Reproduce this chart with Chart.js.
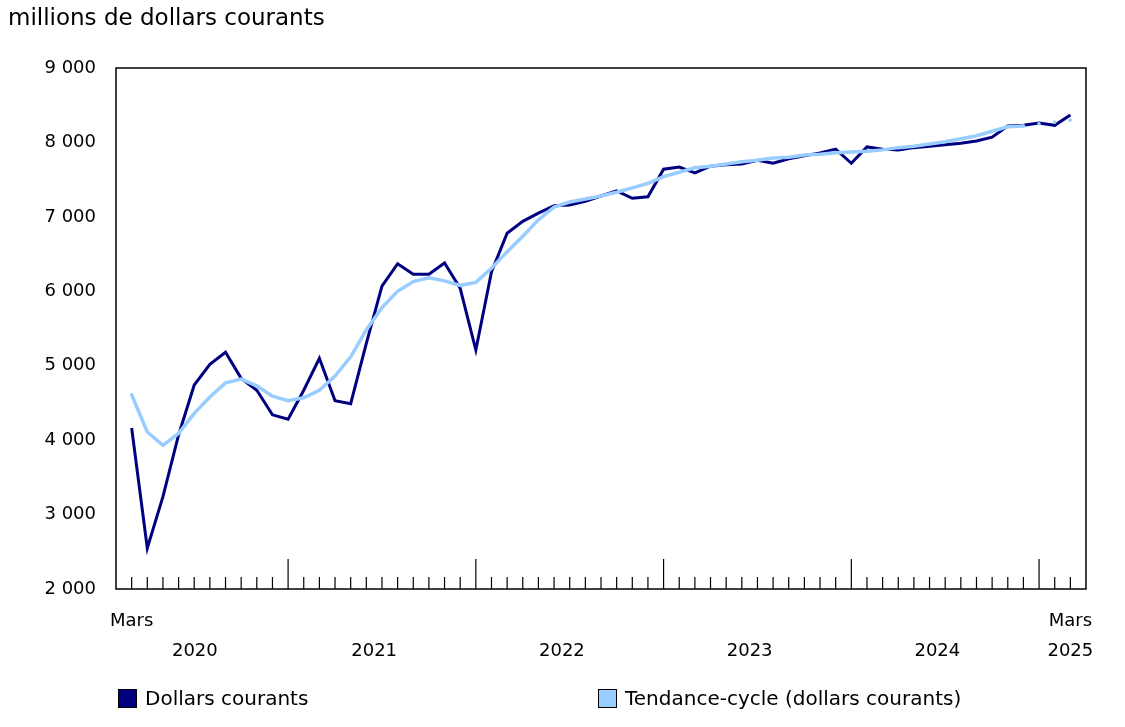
<!DOCTYPE html>
<html>
<head>
<meta charset="utf-8">
<script src="https://cdn.jsdelivr.net/npm/chart.js@4/dist/chart.umd.min.js"></script>
<style>
  body { margin: 0; background: #fff; font-family: "DejaVu Sans", Verdana, sans-serif; }
  #wrap { position: relative; width: 1125px; height: 727px; }
  #title { position: absolute; left: 8px; top: 4px; font-size: 23px; color: #000; }
  .leg { position: absolute; top: 686px; font-size: 20px; display: flex; align-items: center; }
  .sw { width: 19px; height: 19px; border: 1px solid #000; margin-right: 8px; box-sizing: border-box; }
</style>
</head>
<body>
<div id="wrap">
  <canvas id="c" width="1125" height="727"></canvas>
  <div id="title">millions de dollars courants</div>
  <div class="leg" style="left:118px"><div class="sw" style="background:#000080"></div>Dollars courants</div>
  <div class="leg" style="left:598px"><div class="sw" style="background:#99ccff"></div>Tendance-cycle (dollars courants)</div>
</div>
<script>
/* ===== Monthly series, March 2020 - March 2025 ===== */

const months = [];
const monthNames = ['Jan','Fév','Mars','Avr','Mai','Juin','Juil','Août','Sept','Oct','Nov','Déc'];
for (let y = 2020; y <= 2025; y++) {
  for (let m = 0; m < 12; m++) {
    if ((y === 2020 && m < 2) || (y === 2025 && m > 2)) continue;
    months.push(monthNames[m] + ' ' + y);
  }
}

const courants = [
  4163, 2550, 3240, 4070, 4740, 5020, 5180, 4830, 4670, 4340,
  4280, 4670, 5100, 4530, 4490, 5300, 6070, 6370, 6230, 6230, 6380, 6040,
  5210, 6260, 6780, 6940, 7050, 7150, 7160, 7210, 7280, 7350, 7250, 7270,
  7640, 7670, 7590, 7680, 7700, 7710, 7760, 7720, 7780, 7820, 7860, 7910,
  7720, 7940, 7910, 7900, 7930, 7950, 7970, 7990, 8020, 8070, 8220, 8230,
  8260, 8230, 8370
];

const tendance = [
  4610, 4110, 3930, 4090, 4360, 4580, 4770, 4820, 4730, 4590,
  4530, 4570, 4670, 4860, 5120, 5480, 5780, 6000, 6130, 6180, 6140, 6080,
  6120, 6310, 6530, 6740, 6960, 7130, 7200, 7240, 7280, 7330, 7390, 7450,
  7540, 7600, 7660, 7680, 7710, 7740, 7760, 7790, 7800, 7830, 7840, 7860,
  7870, 7880, 7900, 7930, 7950, 7980, 8010, 8050, 8090, 8150, 8210, 8220,
  8250, 8270, 8300
];

const yearLabels = ['2020', '2021', '2022', '2023', '2024', '2025'];
const dottedFrom = 57; // last trend-cycle points are drawn dotted

const FONT = '"DejaVu Sans", Verdana, sans-serif';
const toXY = arr => arr.map((v, i) => ({ x: i, y: v }));

// Box, month ticks and bottom labels
const decor = {
  id: 'decor',
  afterDraw(chart) {
    const ctx = chart.ctx, a = chart.chartArea, xs = chart.scales.x;
    ctx.save();
    ctx.strokeStyle = '#000';
    ctx.lineWidth = 1.5;
    ctx.strokeRect(a.left, a.top, a.right - a.left, a.bottom - a.top);
    ctx.lineWidth = 1.2;
    months.forEach((m, i) => {
      const x = xs.getPixelForValue(i);
      const len = m.startsWith('Jan') ? 30 : 12;
      ctx.beginPath();
      ctx.moveTo(x, a.bottom);
      ctx.lineTo(x, a.bottom - len);
      ctx.stroke();
    });
    ctx.fillStyle = '#000';
    ctx.font = '18px ' + FONT;
    ctx.textAlign = 'center';
    ctx.textBaseline = 'middle';
    ctx.fillText('Mars', xs.getPixelForValue(0), a.bottom + 32);
    ctx.fillText('Mars', xs.getPixelForValue(months.length - 1), a.bottom + 32);
    yearLabels.forEach(y => {
      const idx = months.map((m, i) => m.endsWith(y) ? i : -1).filter(i => i >= 0);
      let x;
      if (y === '2025') x = xs.getPixelForValue(months.length - 1);
      else if (y === '2020') x = (xs.getPixelForValue(idx[0]) + xs.getPixelForValue(idx[idx.length - 1] + 1)) / 2 - 15;
      else x = (xs.getPixelForValue(idx[0]) + xs.getPixelForValue(idx[idx.length - 1])) / 2;
      ctx.fillText(y, x, a.bottom + 62);
    });
    ctx.restore();
  }
};

new Chart(document.getElementById('c'), {
  type: 'line',
  data: {
    datasets: [
      {
        label: 'Tendance-cycle (dollars courants)',
        data: toXY(tendance),
        borderColor: '#99ccff',
        borderWidth: 3.5,
        pointRadius: 0,
        tension: 0,
        borderCapStyle: 'round',
        segment: {
          borderDash: c => c.p0DataIndex >= dottedFrom ? [0.1, 15.6] : undefined
        }
      },
      {
        label: 'Dollars courants',
        data: toXY(courants),
        borderColor: '#000080',
        borderWidth: 3,
        pointRadius: 0,
        tension: 0
      }
    ]
  },
  options: {
    responsive: false,
    animation: false,
    layout: { padding: { top: 68, right: 39, bottom: 138, left: 0 } },
    plugins: { legend: { display: false }, tooltip: { enabled: false } },
    scales: {
      x: {
        type: 'linear',
        min: -1,
        max: months.length,
        display: false
      },
      y: {
        min: 2000,
        max: 9000,
        afterFit: s => { s.width = 116; },
        grid: { display: false },
        border: { display: false },
        ticks: {
          stepSize: 1000,
          color: '#000',
          padding: 12,
          font: { size: 18, family: FONT },
          callback: v => v.toLocaleString('fr-FR').replace(/\s/g, ' ')
        }
      }
    }
  },
  plugins: [decor]
});
</script>
</body>
</html>
